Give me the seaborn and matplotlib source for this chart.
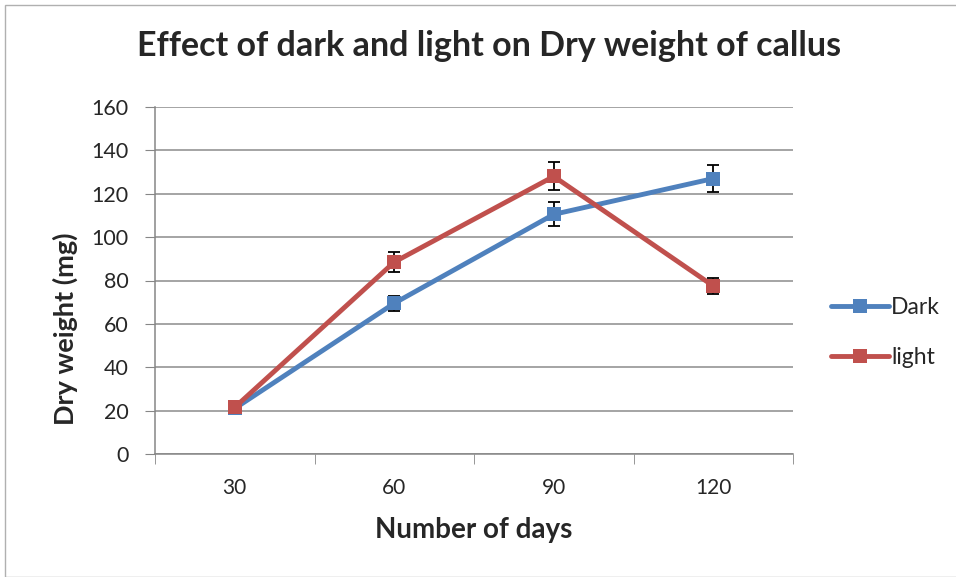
import numpy as np
import pandas as pd
import matplotlib
matplotlib.use('Agg')
import matplotlib.pyplot as plt
import seaborn as sns
from matplotlib.ticker import FixedLocator

# Data
days = ['30', '60', '90', '120']
dark = [21, 69.5, 110.5, 127]
light = [21.5, 88.5, 128, 77.5]
dark_err = [0.8, 3.5, 5.5, 6.4]
light_err = [0.8, 4.5, 6.5, 3.8]

df = pd.DataFrame({
    'days': days * 2,
    'weight': dark + light,
    'err': dark_err + light_err,
    'group': ['Dark'] * 4 + ['light'] * 4,
})

sns.set_style('white')
plt.rcParams['font.family'] = ['Lato', 'DejaVu Sans']

colors = {'Dark': '#4F81BD', 'light': '#C0504D'}

fig = plt.figure(figsize=(9.56, 5.77), dpi=100)
ax = fig.add_axes([155 / 956, 1 - 454 / 577, (793 - 155) / 956, (454 - 107) / 577])

# error bars (behind markers)
for g in ['Dark', 'light']:
    sub = df[df['group'] == g]
    ax.errorbar(np.arange(len(days)), sub['weight'], yerr=sub['err'], fmt='none',
                ecolor='black', elinewidth=1.3, capsize=4, capthick=1.3, zorder=2)

sns.lineplot(data=df, x='days', y='weight', hue='group', palette=colors,
             marker='s', markersize=10, markeredgewidth=0, linewidth=3.5,
             ax=ax, sort=False, zorder=3)

ax.set_xlim(-0.5, 3.5)
ax.set_ylim(0, 160)
ax.set_yticks(range(0, 161, 20))
ax.xaxis.set_minor_locator(FixedLocator([-0.5, 0.5, 1.5, 2.5, 3.5]))
ax.tick_params(axis='x', which='major', length=0, labelsize=15, pad=17)
ax.tick_params(axis='x', which='minor', length=7, color='#868686', direction='out', bottom=True)
ax.tick_params(axis='y', length=7, color='#868686', direction='out', left=True, labelsize=15.5, pad=12)

ax.yaxis.grid(True, color='#8c8c8c', linewidth=1.1)
ax.set_axisbelow(True)
for s in ['top', 'right']:
    ax.spines[s].set_visible(False)
for s in ['left', 'bottom']:
    ax.spines[s].set_color('#868686')
    ax.spines[s].set_linewidth(1.1)

ax.set_xlabel('Number of days', fontsize=20, fontweight='bold', labelpad=14)
ax.set_ylabel('Dry weight (mg)', fontsize=19.5, fontweight='bold')
ax.yaxis.set_label_coords(-0.121, 0.36)
fig.suptitle('Effect of dark and light on Dry weight of callus', x=489 / 956,
             y=1 - 30 / 577, fontsize=24.5, fontweight='bold')

leg = ax.legend(loc='center left', bbox_to_anchor=(1.028, 0.35), frameon=False,
                fontsize=16.5, handlelength=2.5, handletextpad=0.1, labelspacing=1.3)

# outer border
fig.patches.append(plt.Rectangle((5 / 956, 0), 1, 1 - 5 / 577, transform=fig.transFigure,
                                 fill=False, edgecolor='#b0b0b0', linewidth=1))

fig.savefig('out.png', dpi=100)
